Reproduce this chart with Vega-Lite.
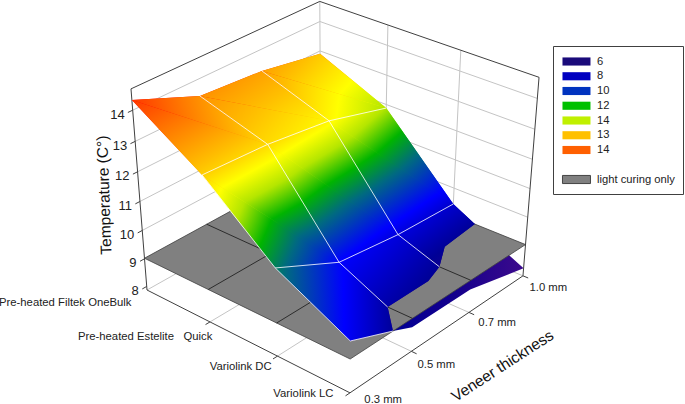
{"$schema":"https://vega.github.io/schema/vega-lite/v6.json","width":685,"height":404,"padding":0,"autosize":"none","background":"white","config":{"view":{"stroke":null}},
"params":[{"name":"cmap","value":[{"offset":0,"color":"#3c0a8c"},{"offset":0.1,"color":"#14008c"},{"offset":0.143,"color":"#000096"},{"offset":0.257,"color":"#0000ff"},{"offset":0.386,"color":"#006a80"},{"offset":0.471,"color":"#00b400"},{"offset":0.557,"color":"#b4e600"},{"offset":0.629,"color":"#ffff00"},{"offset":0.714,"color":"#ffbe00"},{"offset":0.814,"color":"#ff7800"},{"offset":0.914,"color":"#ff3000"},{"offset":1,"color":"#ff0000"}]}],
"data":{"values":[
{"k":"grid","id":"t9","o":1,"m":0,"v":0,"T":9},{"k":"grid","id":"t9","o":2,"m":0,"v":3,"T":9},{"k":"grid","id":"t9","o":3,"m":3,"v":3,"T":9},
{"k":"grid","id":"t10","o":1,"m":0,"v":0,"T":10},{"k":"grid","id":"t10","o":2,"m":0,"v":3,"T":10},{"k":"grid","id":"t10","o":3,"m":3,"v":3,"T":10},
{"k":"grid","id":"t11","o":1,"m":0,"v":0,"T":11},{"k":"grid","id":"t11","o":2,"m":0,"v":3,"T":11},{"k":"grid","id":"t11","o":3,"m":3,"v":3,"T":11},
{"k":"grid","id":"t12","o":1,"m":0,"v":0,"T":12},{"k":"grid","id":"t12","o":2,"m":0,"v":3,"T":12},{"k":"grid","id":"t12","o":3,"m":3,"v":3,"T":12},
{"k":"grid","id":"t13","o":1,"m":0,"v":0,"T":13},{"k":"grid","id":"t13","o":2,"m":0,"v":3,"T":13},{"k":"grid","id":"t13","o":3,"m":3,"v":3,"T":13},
{"k":"grid","id":"t14","o":1,"m":0,"v":0,"T":14},{"k":"grid","id":"t14","o":2,"m":0,"v":3,"T":14},{"k":"grid","id":"t14","o":3,"m":3,"v":3,"T":14},
{"k":"grid","id":"w0","o":1,"m":0,"v":3,"T":7.87},{"k":"grid","id":"w0","o":2,"m":0,"v":3,"T":14.67},
{"k":"grid","id":"w1","o":1,"m":1,"v":3,"T":7.87},{"k":"grid","id":"w1","o":2,"m":1,"v":3,"T":14.67},
{"k":"grid","id":"w2","o":1,"m":2,"v":3,"T":7.87},{"k":"grid","id":"w2","o":2,"m":2,"v":3,"T":14.67},
{"k":"grid","id":"f1","o":1,"m":1,"v":0,"T":7.87},{"k":"grid","id":"f1","o":2,"m":1,"v":3,"T":7.87},
{"k":"grid","id":"f2","o":1,"m":2,"v":0,"T":7.87},{"k":"grid","id":"f2","o":2,"m":2,"v":3,"T":7.87},
{"k":"grid","id":"f3","o":1,"m":0,"v":1,"T":7.87},{"k":"grid","id":"f3","o":2,"m":3,"v":1,"T":7.87},
{"k":"grid","id":"f4","o":1,"m":0,"v":2,"T":7.87},{"k":"grid","id":"f4","o":2,"m":3,"v":2,"T":7.87},
{"k":"grid","id":"f5","o":1,"m":0,"v":0,"T":7.87},{"k":"grid","id":"f5","o":2,"m":0,"v":3,"T":7.87},{"k":"grid","id":"f5","o":3,"m":3,"v":3,"T":7.87},
{"k":"box","id":"b","o":1,"m":0,"v":0,"T":7.87},{"k":"box","id":"b","o":2,"m":0,"v":0,"T":14.67},{"k":"box","id":"b","o":3,"m":0,"v":3,"T":14.67},{"k":"box","id":"b","o":4,"m":3,"v":3,"T":14.67},{"k":"box","id":"b","o":5,"m":3,"v":3,"T":7.87},{"k":"box","id":"b","o":6,"m":3,"v":0,"T":7.87},{"k":"box","id":"b","o":7,"m":0,"v":0,"T":7.87},
{"k":"box","id":"a9","o":1,"m":0,"v":-0.07,"T":9},{"k":"box","id":"a9","o":2,"m":0,"v":0,"T":9},
{"k":"box","id":"a10","o":1,"m":0,"v":-0.07,"T":10},{"k":"box","id":"a10","o":2,"m":0,"v":0,"T":10},
{"k":"box","id":"a11","o":1,"m":0,"v":-0.07,"T":11},{"k":"box","id":"a11","o":2,"m":0,"v":0,"T":11},
{"k":"box","id":"a12","o":1,"m":0,"v":-0.07,"T":12},{"k":"box","id":"a12","o":2,"m":0,"v":0,"T":12},
{"k":"box","id":"a13","o":1,"m":0,"v":-0.07,"T":13},{"k":"box","id":"a13","o":2,"m":0,"v":0,"T":13},
{"k":"box","id":"a14","o":1,"m":0,"v":-0.07,"T":14},{"k":"box","id":"a14","o":2,"m":0,"v":0,"T":14},
{"k":"box","id":"a8","o":1,"m":0,"v":-0.07,"T":8},{"k":"box","id":"a8","o":2,"m":0,"v":0,"T":8},
{"k":"box","id":"m1","o":1,"m":1,"v":-0.07,"T":7.87},{"k":"box","id":"m1","o":2,"m":1,"v":0,"T":7.87},
{"k":"box","id":"m2","o":1,"m":2,"v":-0.07,"T":7.87},{"k":"box","id":"m2","o":2,"m":2,"v":0,"T":7.87},
{"k":"box","id":"m3","o":1,"m":3,"v":-0.07,"T":7.87},{"k":"box","id":"m3","o":2,"m":3,"v":0,"T":7.87},
{"k":"box","id":"n1","o":1,"m":3.07,"v":1,"T":7.87},{"k":"box","id":"n1","o":2,"m":3,"v":1,"T":7.87},
{"k":"box","id":"n2","o":1,"m":3.07,"v":2,"T":7.87},{"k":"box","id":"n2","o":2,"m":3,"v":2,"T":7.87},
{"k":"box","id":"n3","o":1,"m":3.07,"v":3,"T":7.87},{"k":"box","id":"n3","o":2,"m":3,"v":3,"T":7.87},
{"k":"low","o":1,"m":3,"v":0.68,"T":9.02},{"k":"low","o":2,"m":3,"v":1,"T":8.71},{"k":"low","o":3,"m":3,"v":2,"T":8.69},{"k":"low","o":4,"m":3,"v":3,"T":8.15},{"k":"low","o":5,"m":2.31,"v":3,"T":9.02},{"k":"low","o":6,"m":2.36,"v":2.38,"T":9.02},{"k":"low","o":7,"m":2.58,"v":2,"T":9.02},{"k":"low","o":8,"m":2.67,"v":1.69,"T":9.02},{"k":"low","o":9,"m":2.67,"v":1,"T":9.02},
{"k":"plane","o":1,"m":0,"v":0,"T":9.02},{"k":"plane","o":2,"m":3,"v":0,"T":9.02},{"k":"plane","o":3,"m":3,"v":3,"T":9.02},{"k":"plane","o":4,"m":0,"v":3,"T":9.02},{"k":"plane","o":5,"m":0,"v":0,"T":9.02},
{"k":"pl","id":"p1","o":1,"m":1,"v":0,"T":9.02},{"k":"pl","id":"p1","o":2,"m":1,"v":3,"T":9.02},
{"k":"pl","id":"p2","o":1,"m":2,"v":0,"T":9.02},{"k":"pl","id":"p2","o":2,"m":2,"v":3,"T":9.02},
{"k":"pl","id":"p3","o":1,"m":0,"v":1,"T":9.02},{"k":"pl","id":"p3","o":2,"m":3,"v":1,"T":9.02},
{"k":"pl","id":"p4","o":1,"m":0,"v":2,"T":9.02},{"k":"pl","id":"p4","o":2,"m":3,"v":2,"T":9.02},
{"k":"base","o":1,"m":0,"v":0,"T":14.32},{"k":"base","o":2,"m":0,"v":1,"T":13.44},{"k":"base","o":3,"m":0,"v":2,"T":13.28},{"k":"base","o":4,"m":0,"v":3,"T":12.9},{"k":"base","o":5,"m":1,"v":3,"T":11.88},{"k":"base","o":6,"m":2,"v":3,"T":9.43},{"k":"base","o":7,"m":2.31,"v":3,"T":9.02},{"k":"base","o":8,"m":2.36,"v":2.38,"T":9.02},{"k":"base","o":9,"m":2.58,"v":2,"T":9.02},{"k":"base","o":10,"m":2.67,"v":1.69,"T":9.02},{"k":"base","o":11,"m":2.67,"v":1,"T":9.02},{"k":"base","o":12,"m":3,"v":0.68,"T":9.02},{"k":"base","o":13,"m":3,"v":0,"T":9.62},{"k":"base","o":14,"m":2,"v":0,"T":10.86},{"k":"base","o":15,"m":1,"v":0,"T":12.84},
{"k":"a1","o":1,"m":0,"v":0,"T":14.32},{"k":"a1","o":2,"m":0,"v":1,"T":13.44},{"k":"a1","o":3,"m":1,"v":1,"T":12.74},
{"k":"a2","o":1,"m":0,"v":0,"T":14.32},{"k":"a2","o":2,"m":1,"v":1,"T":12.74},{"k":"a2","o":3,"m":1,"v":0,"T":12.84},
{"k":"b1","o":1,"m":0,"v":1,"T":13.44},{"k":"b1","o":2,"m":0,"v":2,"T":13.28},{"k":"b1","o":3,"m":1,"v":2,"T":12.47},
{"k":"b2","o":1,"m":0,"v":1,"T":13.44},{"k":"b2","o":2,"m":1,"v":2,"T":12.47},{"k":"b2","o":3,"m":1,"v":1,"T":12.74},
{"k":"c1","o":1,"m":0,"v":2,"T":13.28},{"k":"c1","o":2,"m":0,"v":3,"T":12.9},{"k":"c1","o":3,"m":1,"v":3,"T":11.88},
{"k":"c2","o":1,"m":0,"v":2,"T":13.28},{"k":"c2","o":2,"m":1,"v":3,"T":11.88},{"k":"c2","o":3,"m":1,"v":2,"T":12.47},
{"k":"d1","o":1,"m":1,"v":0,"T":12.84},{"k":"d1","o":2,"m":1,"v":1,"T":12.74},{"k":"d1","o":3,"m":2,"v":1,"T":9.8},
{"k":"d2","o":1,"m":1,"v":0,"T":12.84},{"k":"d2","o":2,"m":2,"v":1,"T":9.8},{"k":"d2","o":3,"m":2,"v":0,"T":10.86},
{"k":"e1","o":1,"m":1,"v":1,"T":12.74},{"k":"e1","o":2,"m":1,"v":2,"T":12.47},{"k":"e1","o":3,"m":2,"v":2,"T":9.53},
{"k":"e2","o":1,"m":1,"v":1,"T":12.74},{"k":"e2","o":2,"m":2,"v":2,"T":9.53},{"k":"e2","o":3,"m":2,"v":1,"T":9.8},
{"k":"f1","o":1,"m":1,"v":2,"T":12.47},{"k":"f1","o":2,"m":1,"v":3,"T":11.88},{"k":"f1","o":3,"m":2,"v":3,"T":9.43},
{"k":"f2","o":1,"m":1,"v":2,"T":12.47},{"k":"f2","o":2,"m":2,"v":3,"T":9.43},{"k":"f2","o":3,"m":2,"v":2,"T":9.53},
{"k":"g","o":1,"m":2,"v":0,"T":10.86},{"k":"g","o":2,"m":2,"v":1,"T":9.8},{"k":"g","o":3,"m":2.67,"v":1,"T":9.02},{"k":"g","o":4,"m":3,"v":0.68,"T":9.02},{"k":"g","o":5,"m":3,"v":0,"T":9.62},
{"k":"h","o":1,"m":2,"v":1,"T":9.8},{"k":"h","o":2,"m":2,"v":2,"T":9.53},{"k":"h","o":3,"m":2.58,"v":2,"T":9.02},{"k":"h","o":4,"m":2.67,"v":1.69,"T":9.02},{"k":"h","o":5,"m":2.67,"v":1,"T":9.02},
{"k":"i","o":1,"m":2,"v":2,"T":9.53},{"k":"i","o":2,"m":2,"v":3,"T":9.43},{"k":"i","o":3,"m":2.31,"v":3,"T":9.02},{"k":"i","o":4,"m":2.36,"v":2.38,"T":9.02},{"k":"i","o":5,"m":2.58,"v":2,"T":9.02},
{"k":"wl","id":"r1","o":1,"m":1,"v":0,"T":12.84},{"k":"wl","id":"r1","o":2,"m":1,"v":1,"T":12.74},{"k":"wl","id":"r1","o":3,"m":1,"v":2,"T":12.47},{"k":"wl","id":"r1","o":4,"m":1,"v":3,"T":11.88},
{"k":"wl","id":"r2","o":1,"m":2,"v":0,"T":10.86},{"k":"wl","id":"r2","o":2,"m":2,"v":1,"T":9.8},{"k":"wl","id":"r2","o":3,"m":2,"v":2,"T":9.53},{"k":"wl","id":"r2","o":4,"m":2,"v":3,"T":9.43},
{"k":"wl","id":"c1","o":1,"m":0,"v":1,"T":13.44},{"k":"wl","id":"c1","o":2,"m":1,"v":1,"T":12.74},{"k":"wl","id":"c1","o":3,"m":2,"v":1,"T":9.8},{"k":"wl","id":"c1","o":4,"m":2.67,"v":1,"T":9.02},
{"k":"wl","id":"c2","o":1,"m":0,"v":2,"T":13.28},{"k":"wl","id":"c2","o":2,"m":1,"v":2,"T":12.47},{"k":"wl","id":"c2","o":3,"m":2,"v":2,"T":9.53},{"k":"wl","id":"c2","o":4,"m":2.58,"v":2,"T":9.02},
{"k":"wl","id":"c0","o":1,"m":1,"v":0,"T":12.84},{"k":"wl","id":"c0","o":2,"m":2,"v":0,"T":10.86},{"k":"wl","id":"c0","o":3,"m":3,"v":0,"T":9.62},{"k":"wl","id":"c0","o":4,"m":3,"v":0.68,"T":9.02},
{"k":"tick","t":"14","m":0,"v":0,"T":14},{"k":"tick","t":"13","m":0,"v":0,"T":13},{"k":"tick","t":"12","m":0,"v":0,"T":12},{"k":"tick","t":"11","m":0,"v":0,"T":11},{"k":"tick","t":"10","m":0,"v":0,"T":10},{"k":"tick","t":"9","m":0,"v":0,"T":9},{"k":"tick","t":"8","m":0,"v":0,"T":8},
{"k":"mat","t":"Pre-heated Filtek OneBulk","m":0.07,"v":-0.31,"T":7.87},{"k":"mat","t":"Pre-heated Estelite\u00a0\u00a0\u00a0Quick","m":1.22,"v":-0.19,"T":7.87},{"k":"mat","t":"Variolink DC","m":2.09,"v":-0.19,"T":7.87},{"k":"mat","t":"Variolink LC","m":2.89,"v":-0.13,"T":7.87},
{"k":"ven","t":"0.3 mm","m":3.19,"v":0,"T":7.87},{"k":"ven","t":"0.5 mm","m":3.2,"v":0.85,"T":7.87},{"k":"ven","t":"0.7 mm","m":3.2,"v":1.9,"T":7.87},{"k":"ven","t":"1.0 mm","m":3.2,"v":2.84,"T":7.87},
{"k":"ty","t":"Temperature (C°)","m":-0.32,"v":-0.23,"T":11.17},
{"k":"tx","t":"Veneer thickness","m":3.87,"v":1.41,"T":7.87},
{"k":"leg","leg":"6","m":0,"v":0,"T":8},{"k":"leg","leg":"8","m":0,"v":0,"T":8},{"k":"leg","leg":"10","m":0,"v":0,"T":8},{"k":"leg","leg":"12","m":0,"v":0,"T":8},{"k":"leg","leg":"14","m":0,"v":0,"T":8},{"k":"leg","leg":"13","m":0,"v":0,"T":8},{"k":"leg","leg":"14 ","m":0,"v":0,"T":8},{"k":"leg","leg":" ","m":0,"v":0,"T":8},{"k":"leg","leg":"light curing only","m":0,"v":0,"T":8}
]},
"transform":[
{"calculate":"1-0.0333*datum.m+0.03*datum.v-0.0115*(datum.T-7.87)","as":"w"},
{"calculate":"(147+56*datum.m+67.6*datum.v-3.86*(datum.T-7.87))/datum.w","as":"px"},
{"calculate":"(290+21.2*datum.m-26.83*datum.v-30.6*(datum.T-7.87))/datum.w+0.098*datum.m*datum.v*(datum.T-7.87)","as":"py"}
],
"encoding":{
"x":{"field":"px","type":"quantitative","axis":null,"scale":{"domain":[0,685],"range":[0,685],"zero":false,"nice":false}},
"y":{"field":"py","type":"quantitative","axis":null,"scale":{"domain":[0,404],"range":[0,404],"zero":false,"nice":false}},
"order":{"field":"o"}
},
"layer":[
{"transform":[{"filter":"datum.k=='grid'"}],"mark":{"type":"line","stroke":"#c4c4c4","strokeWidth":1},"encoding":{"detail":{"field":"id"}}},
{"transform":[{"filter":"datum.k=='low'"}],"mark":{"type":"line","strokeWidth":0,"fill":{"gradient":"linear","x1":0,"y1":0,"x2":1,"y2":0,"stops":[{"offset":0,"color":"#000096"},{"offset":0.5,"color":"#14008c"},{"offset":1,"color":"#3c0a8c"}]}}},
{"transform":[{"filter":"datum.k=='plane'"}],"mark":{"type":"line","fill":"#808080","stroke":"#404040","strokeWidth":0.8}},
{"transform":[{"filter":"datum.k=='pl'"}],"mark":{"type":"line","stroke":"#222222","strokeWidth":0.9},"encoding":{"detail":{"field":"id"}}},
{"transform":[{"filter":"datum.k=='box'"}],"mark":{"type":"line","stroke":"#404040","strokeWidth":1},"encoding":{"detail":{"field":"id"}}},
{"transform":[{"filter":"datum.k=='base'"}],"mark":{"type":"line","strokeWidth":0,"fill":{"expr":"{gradient:'linear',x1:0.822,y1:0.899,x2:0.178,y2:0.101,stops:cmap}"}}},
{"transform":[{"filter":"datum.k=='a1'"}],"mark":{"type":"line","strokeWidth":0,"fill":{"expr":"{gradient:'linear',x1:3.683,y1:0.214,x2:-0.351,y2:0.576,stops:cmap}"}}},
{"transform":[{"filter":"datum.k=='a2'"}],"mark":{"type":"line","strokeWidth":0,"fill":{"expr":"{gradient:'linear',x1:3.329,y1:3.082,x2:-0.382,y2:-0.305,stops:cmap}"}}},
{"transform":[{"filter":"datum.k=='b1'"}],"mark":{"type":"line","strokeWidth":0,"fill":{"expr":"{gradient:'linear',x1:5.591,y1:3.288,x2:-1.449,y2:-0.567,stops:cmap}"}}},
{"transform":[{"filter":"datum.k=='b2'"}],"mark":{"type":"line","strokeWidth":0,"fill":{"expr":"{gradient:'linear',x1:5.806,y1:2.181,x2:-1.791,y2:-0.226,stops:cmap}"}}},
{"transform":[{"filter":"datum.k=='c1'"}],"mark":{"type":"line","strokeWidth":0,"fill":{"expr":"{gradient:'linear',x1:4.144,y1:1.943,x2:-1.341,y2:-0.229,stops:cmap}"}}},
{"transform":[{"filter":"datum.k=='c2'"}],"mark":{"type":"line","strokeWidth":0,"fill":{"expr":"{gradient:'linear',x1:3.894,y1:0.7,x2:-1.305,y2:0.394,stops:cmap}"}}},
{"transform":[{"filter":"datum.k=='d1'"}],"mark":{"type":"line","strokeWidth":0,"fill":{"expr":"{gradient:'linear',x1:1.247,y1:1.659,x2:-0.202,y2:-0.589,stops:cmap}"}}},
{"transform":[{"filter":"datum.k=='d2'"}],"mark":{"type":"line","strokeWidth":0,"fill":{"expr":"{gradient:'linear',x1:1.773,y1:0.873,x2:-0.929,y2:0.081,stops:cmap}"}}},
{"transform":[{"filter":"datum.k=='e1'"}],"mark":{"type":"line","strokeWidth":0,"fill":{"expr":"{gradient:'linear',x1:1.231,y1:1.548,x2:-0.291,y2:-0.634,stops:cmap}"}}},
{"transform":[{"filter":"datum.k=='e2'"}],"mark":{"type":"line","strokeWidth":0,"fill":{"expr":"{gradient:'linear',x1:1.191,y1:1.357,x2:-0.481,y2:-0.717,stops:cmap}"}}},
{"transform":[{"filter":"datum.k=='f1'"}],"mark":{"type":"line","strokeWidth":0,"fill":{"expr":"{gradient:'linear',x1:1.493,y1:1.38,x2:-0.784,y2:-0.638,stops:cmap}"}}},
{"transform":[{"filter":"datum.k=='f2'"}],"mark":{"type":"line","strokeWidth":0,"fill":{"expr":"{gradient:'linear',x1:1.109,y1:1.334,x2:-0.49,y2:-0.856,stops:cmap}"}}},
{"transform":[{"filter":"datum.k=='g'"}],"mark":{"type":"line","strokeWidth":0,"fill":{"expr":"{gradient:'linear',x1:1.55,y1:0.49,x2:-2.22,y2:0.53,stops:cmap}"}}},
{"transform":[{"filter":"datum.k=='h'"}],"mark":{"type":"line","strokeWidth":0,"fill":{"expr":"{gradient:'linear',x1:1.774,y1:1.313,x2:-4.77,y2:-2.863,stops:cmap}"}}},
{"transform":[{"filter":"datum.k=='i'"}],"mark":{"type":"line","strokeWidth":0,"fill":{"expr":"{gradient:'linear',x1:1.369,y1:1.454,x2:-3.644,y2:-4.049,stops:cmap}"}}},
{"transform":[{"filter":"datum.k=='wl'"}],"mark":{"type":"line","stroke":"#ffffff","strokeWidth":0.9,"opacity":0.9},"encoding":{"detail":{"field":"id"}}},
{"transform":[{"filter":"datum.k=='tick'"}],"mark":{"type":"text","align":"right","baseline":"middle","dx":-8,"dy":4.5,"font":"Liberation Sans","fontSize":13,"fill":"#222222"},"encoding":{"text":{"field":"t"}}},
{"transform":[{"filter":"datum.k=='mat'"}],"mark":{"type":"text","align":"right","baseline":"middle","font":"Liberation Sans","fontSize":11.3,"fill":"#222222"},"encoding":{"text":{"field":"t"}}},
{"transform":[{"filter":"datum.k=='ven'"}],"mark":{"type":"text","align":"left","baseline":"middle","font":"Liberation Sans","fontSize":11.3,"fill":"#222222"},"encoding":{"text":{"field":"t"}}},
{"transform":[{"filter":"datum.k=='ty'"}],"mark":{"type":"text","align":"center","baseline":"middle","angle":268,"font":"Liberation Sans","fontSize":15.5,"fill":"#111111"},"encoding":{"text":{"field":"t"}}},
{"transform":[{"filter":"datum.k=='tx'"}],"mark":{"type":"text","align":"center","baseline":"middle","angle":327,"font":"Liberation Sans","fontSize":15.5,"fill":"#111111"},"encoding":{"text":{"field":"t"}}},
{"transform":[{"filter":"datum.k=='leg'"}],"mark":{"type":"point","filled":true,"size":0,"opacity":0},"encoding":{"color":{"field":"leg","type":"nominal","scale":{"domain":["6","8","10","12","14","13","14 "," ","light curing only"],"range":["#1a0a7a","#0000c0","#0033bf","#00c000","#c0f000","#ffc000","#ff6000","transparent","#808080"]},"legend":{"orient":"none","legendX":553,"legendY":46,"title":null,"padding":8,"strokeColor":"#404040","fillColor":"white","symbolType":"M-0.86,-0.58H3.14V0.58H-0.86Z","symbolSize":196,"symbolOpacity":1,"labelOffset":21,"rowPadding":0.75,"labelFont":"Liberation Sans","labelFontSize":11.2,"labelColor":"#222222","labelLimit":120,"encode":{"symbols":{"update":{"stroke":{"signal":"datum.value=='light curing only'?'#444444':'transparent'"},"strokeWidth":{"value":1}}}}}}}}
]}
